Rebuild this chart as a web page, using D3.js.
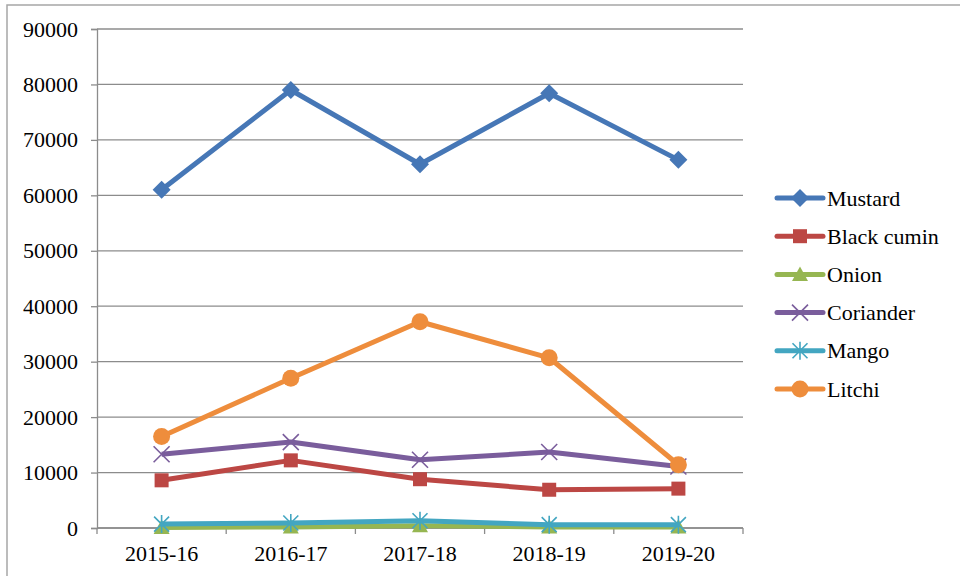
<!DOCTYPE html>
<html>
<head>
<meta charset="utf-8">
<script src="https://cdn.jsdelivr.net/npm/d3@7"></script>
<style>
  html, body { margin: 0; padding: 0; background: #fff; }
  svg { display: block; }
  svg text { font-family: "Liberation Serif", "Times New Roman", "DejaVu Serif", serif; }
</style>
</head>
<body>
<div id="chart"></div>
<script>
// data
const years = ["2015-16", "2016-17", "2017-18", "2018-19", "2019-20"];
const mustard = [61000, 79000, 65600, 78400, 66400];
const blackCumin = [8600, 12200, 8800, 6900, 7100];
const onion = [100, 200, 400, 200, 200];
const coriander = [13300, 15500, 12300, 13700, 11100];
const mango = [700, 900, 1300, 600, 600];
const litchi = [16500, 27000, 37200, 30700, 11400];
const yTicks = [0, 10000, 20000, 30000, 40000, 50000, 60000, 70000, 80000, 90000];

const series = [
  { name: "Mustard", values: mustard, color: "#4677B6", marker: "diamond" },
  { name: "Black cumin", values: blackCumin, color: "#BC4744", marker: "square" },
  { name: "Onion", values: onion, color: "#96B652", marker: "triangle" },
  { name: "Coriander", values: coriander, color: "#7A5D9C", marker: "x" },
  { name: "Mango", values: mango, color: "#43A6C1", marker: "star" },
  { name: "Litchi", values: litchi, color: "#EE8D3C", marker: "circle" }
];

const FONT = "'Liberation Serif', 'Times New Roman', 'DejaVu Serif', serif";
const width = 960, height = 576;
const margin = { top: 29, left: 97, right: 217, bottom: 48 };

const svg = d3.select("#chart").append("svg")
  .attr("width", width)
  .attr("height", height);

// outer frame
svg.append("path")
  .attr("d", "M7,576 L7,5 L960,5")
  .attr("fill", "none")
  .attr("stroke", "#a6a6a6")
  .attr("stroke-width", 1.5);

const x = d3.scaleBand()
  .domain(years)
  .range([margin.left, width - margin.right]);

const y = d3.scaleLinear()
  .domain([0, 90000])
  .range([height - margin.bottom, margin.top]);

// gridlines
svg.append("g")
  .selectAll("line")
  .data(yTicks)
  .enter()
  .append("line")
  .attr("x1", margin.left)
  .attr("x2", width - margin.right)
  .attr("y1", (d) => y(d))
  .attr("y2", (d) => y(d))
  .attr("stroke", "#8c8c8c")
  .attr("stroke-width", 1.3);

// y axis
const axisY = d3.axisLeft(y).tickValues(yTicks).tickSize(6).tickPadding(13).tickFormat(d3.format("d"));
const gy = svg.append("g")
  .attr("transform", "translate(" + margin.left + ",0)")
  .call(axisY)
  .attr("font-family", FONT);
gy.select(".domain").attr("stroke", "#8c8c8c").attr("stroke-width", 1.3);
gy.selectAll(".tick line").attr("stroke", "#8c8c8c").attr("stroke-width", 1.3);
gy.selectAll(".tick text")
  .attr("fill", "#000")
  .attr("font-size", "22px")
  .attr("font-family", FONT);

// x axis, ticks at category boundaries
const gx = svg.append("g")
  .attr("transform", "translate(0," + y(0) + ")");
gx.append("line")
  .attr("x1", margin.left)
  .attr("x2", width - margin.right)
  .attr("stroke", "#8c8c8c")
  .attr("stroke-width", 1.3);
const bounds = years.map((d) => x(d)).concat([x(years[years.length - 1]) + x.bandwidth()]);
gx.selectAll(".btick")
  .data(bounds)
  .enter()
  .append("line")
  .attr("x1", (d) => d)
  .attr("x2", (d) => d)
  .attr("y1", 0)
  .attr("y2", 6)
  .attr("stroke", "#8c8c8c")
  .attr("stroke-width", 1.3);
gx.selectAll(".lbl")
  .data(years)
  .enter()
  .append("text")
  .attr("x", (d) => x(d) + x.bandwidth() / 2)
  .attr("y", 33)
  .attr("text-anchor", "middle")
  .attr("font-size", "22px")
  .attr("font-family", FONT)
  .text((d) => d);

// markers
function drawMarker(g, type, color, cx, cy) {
  if (type === "diamond") {
    g.append("path")
      .attr("d", "M" + cx + "," + (cy - 9) + " L" + (cx + 9) + "," + cy + " L" + cx + "," + (cy + 9) + " L" + (cx - 9) + "," + cy + " Z")
      .attr("fill", color);
  } else if (type === "square") {
    g.append("rect")
      .attr("x", cx - 7).attr("y", cy - 7)
      .attr("width", 14).attr("height", 14)
      .attr("fill", color);
  } else if (type === "triangle") {
    g.append("path")
      .attr("d", "M" + cx + "," + (cy - 8) + " L" + (cx + 8) + "," + (cy + 6.5) + " L" + (cx - 8) + "," + (cy + 6.5) + " Z")
      .attr("fill", color);
  } else if (type === "circle") {
    g.append("circle")
      .attr("cx", cx).attr("cy", cy).attr("r", 8.5)
      .attr("fill", color);
  } else if (type === "x") {
    g.append("path")
      .attr("d", "M" + (cx - 8) + "," + (cy - 8) + " L" + (cx + 8) + "," + (cy + 8) + " M" + (cx + 8) + "," + (cy - 8) + " L" + (cx - 8) + "," + (cy + 8))
      .attr("stroke", color).attr("stroke-width", 1.6).attr("fill", "none");
  } else if (type === "star") {
    g.append("path")
      .attr("d", "M" + (cx - 7.5) + "," + (cy - 7.5) + " L" + (cx + 7.5) + "," + (cy + 7.5) + " M" + (cx + 7.5) + "," + (cy - 7.5) + " L" + (cx - 7.5) + "," + (cy + 7.5) + " M" + cx + "," + (cy - 9) + " L" + cx + "," + (cy + 9))
      .attr("stroke", color).attr("stroke-width", 1.6).attr("fill", "none");
  }
}

const line = d3.line()
  .x((d, i) => x(years[i]) + x.bandwidth() / 2)
  .y((d) => y(d));

for (const s of series) {
  const g = svg.append("g");
  g.append("path")
    .datum(s.values)
    .attr("fill", "none")
    .attr("stroke", s.color)
    .attr("stroke-width", 5)
    .attr("stroke-linejoin", "round")
    .attr("d", line);
  s.values.forEach((v, i) => {
    drawMarker(g, s.marker, s.color, x(years[i]) + x.bandwidth() / 2, y(v));
  });
}

// legend
const legend = svg.append("g");
series.forEach((s, i) => {
  const ly = 198 + i * 38.2;
  const row = legend.append("g");
  row.append("line")
    .attr("x1", 777).attr("x2", 823)
    .attr("y1", ly).attr("y2", ly)
    .attr("stroke", s.color)
    .attr("stroke-width", 5)
    .attr("stroke-linecap", "round");
  drawMarker(row, s.marker, s.color, 800, ly);
  row.append("text")
    .attr("x", 827)
    .attr("y", ly + 7.5)
    .attr("font-size", "22px")
    .attr("font-family", FONT)
    .text(s.name);
});
</script>
</body>
</html>
